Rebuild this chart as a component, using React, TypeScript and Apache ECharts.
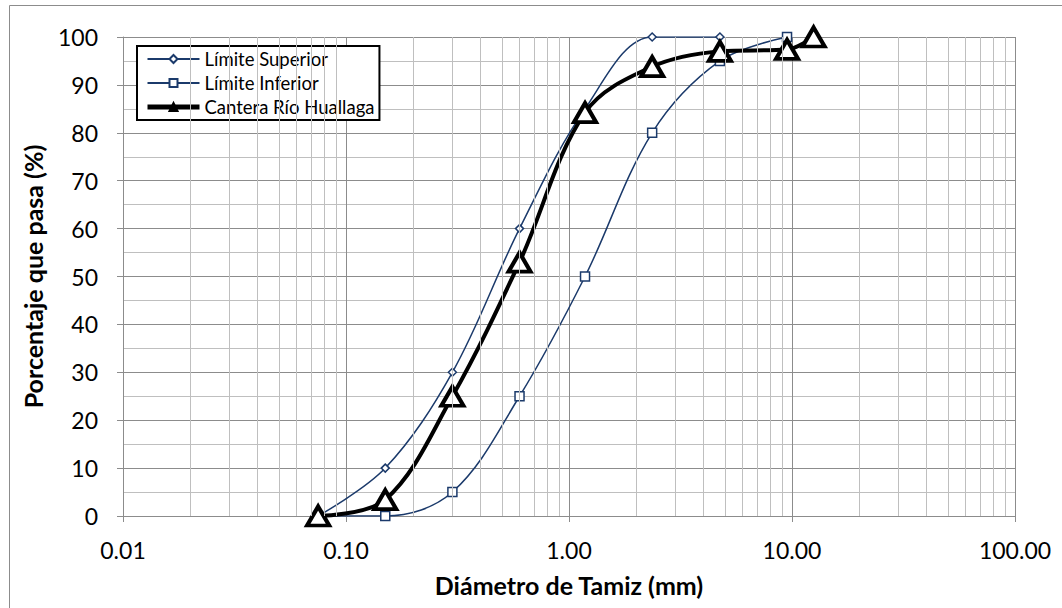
import React, { useEffect, useRef } from 'react';
import * as echarts from 'echarts';

const sieveSuperior = [0.075, 0.15, 0.3, 0.6, 1.18, 2.36, 4.75];
const passSuperior = [0, 10, 30, 60, 85, 100, 100];
const sieveInferior = [0.075, 0.15, 0.3, 0.6, 1.18, 2.36, 4.75, 9.5];
const passInferior = [0, 0, 5, 25, 50, 80, 95, 100];
const sieveCantera = [0.075, 0.15, 0.3, 0.6, 1.18, 2.36, 4.75, 9.5, 12.5];
const passCantera = [0, 3.4, 25, 53, 84.2, 93.8, 97, 97.4, 100];
const decades = [0.01, 0.1, 1, 10];
const minorMultipliers = [2, 3, 4, 5, 6, 7, 8, 9];
const seriesNames = ['Límite Superior', 'Límite Inferior', 'Cantera Río Huallaga'];

const FONT = 'Lato, "Open Sans", sans-serif';
const NAVY = '#1b3a6b';

export default function App() {
  const ref = useRef<HTMLDivElement>(null);
  useEffect(() => {
    if (!ref.current) return;
    const chart = echarts.init(ref.current, undefined, { renderer: 'svg' });
    const pair = (xs: number[], ys: number[]) => xs.map((x, i) => [x, ys[i]]);
    const minorLines: any[] = [];
    decades.forEach((d) => minorMultipliers.forEach((m) => minorLines.push({ xAxis: +(d * m).toPrecision(3) })));
    chart.setOption({
      animation: false,
      backgroundColor: '#ffffff',
      textStyle: { fontFamily: FONT },
      graphic: [
        {
          type: 'rect',
          shape: { x: 9.5, y: 5.5, width: 1200, height: 800 },
          style: { fill: 'none', stroke: '#8c8c8c', lineWidth: 1 },
          silent: true,
          z: -10,
        },
      ],
      grid: { left: 123, right: 47, top: 37, bottom: 92 },
      legend: {
        orient: 'vertical',
        left: 137,
        top: 46,
        padding: [3, 5, 3, 8],
        itemGap: 4,
        itemWidth: 52,
        itemHeight: 10,
        backgroundColor: '#ffffff',
        borderColor: '#000000',
        borderWidth: 2,
        borderRadius: 0,
        textStyle: { fontFamily: FONT, fontSize: 18.5, lineHeight: 20, color: '#000' },
        data: [
          { name: seriesNames[0], lineStyle: { width: 2 } },
          { name: seriesNames[1], lineStyle: { width: 2 } },
          { name: seriesNames[2], lineStyle: { width: 5 }, itemStyle: { color: '#000', borderColor: '#000' } },
        ],
      },
      xAxis: {
        type: 'log',
        logBase: 10,
        min: 0.01,
        max: 100,
        name: 'Diámetro de Tamiz (mm)',
        nameLocation: 'middle',
        nameGap: 56,
        nameTextStyle: { fontFamily: FONT, fontSize: 25, fontWeight: 'bold', color: '#000' },
        axisLine: { show: true, onZero: false, lineStyle: { color: '#8c8c8c', width: 1 } },
        axisTick: { show: true, inside: false, length: 6, lineStyle: { color: '#8c8c8c' } },
        axisLabel: {
          margin: 22,
          fontFamily: FONT,
          fontSize: 23,
          color: '#000',
          formatter: (v: number) => v.toFixed(2),
        },
        splitLine: { show: true, lineStyle: { color: '#8c8c8c', width: 1 } },
      },
      yAxis: {
        type: 'value',
        min: 0,
        max: 100,
        interval: 10,
        name: 'Porcentaje que pasa (%)',
        nameLocation: 'middle',
        nameGap: 78,
        nameTextStyle: { fontFamily: FONT, fontSize: 25, fontWeight: 'bold', color: '#000' },
        axisLine: { show: true, lineStyle: { color: '#8c8c8c', width: 1 } },
        axisTick: { show: true, inside: false, length: 6, lineStyle: { color: '#8c8c8c' } },
        axisLabel: { margin: 25, fontFamily: FONT, fontSize: 23, color: '#000' },
        splitLine: { show: true, lineStyle: { color: '#8c8c8c', width: 1 } },
        minorTick: { show: false, splitNumber: 2 },
        minorSplitLine: { show: true, lineStyle: { color: '#bfbfbf', width: 1 } },
      },
      series: [
        {
          type: 'line',
          name: 'minor-grid',
          data: [],
          silent: true,
          z: 0,
          markLine: {
            silent: true,
            symbol: ['none', 'none'],
            label: { show: false },
            lineStyle: { color: '#bfbfbf', width: 1, type: 'solid' },
            emphasis: { disabled: true },
            data: minorLines,
          },
        },
        {
          type: 'line',
          name: seriesNames[0],
          data: pair(sieveSuperior, passSuperior),
          smooth: 0.35,
          symbol: 'diamond',
          symbolSize: 8,
          showAllSymbol: true,
          lineStyle: { color: NAVY, width: 1.5 },
          itemStyle: { color: '#ffffff', borderColor: NAVY, borderWidth: 1.5 },
          z: 3,
        },
        {
          type: 'line',
          name: seriesNames[1],
          data: pair(sieveInferior, passInferior),
          smooth: 0.35,
          symbol: 'rect',
          symbolSize: 9,
          showAllSymbol: true,
          lineStyle: { color: NAVY, width: 1.5 },
          itemStyle: { color: '#ffffff', borderColor: NAVY, borderWidth: 1.5 },
          z: 3,
        },
        {
          type: 'line',
          name: seriesNames[2],
          data: pair(sieveCantera, passCantera),
          smooth: 0.35,
          symbol: 'triangle',
          symbolSize: [22, 19],
          showAllSymbol: true,
          lineStyle: { color: '#000000', width: 4 },
          itemStyle: { color: '#ffffff', borderColor: '#000000', borderWidth: 4 },
          z: 4,
        },
      ],
    });
    return () => chart.dispose();
  }, []);
  return (
    <div
      ref={ref}
      style={{ position: 'fixed', left: 0, top: 0, width: 1062, height: 608, background: '#fff' }}
    />
  );
}
